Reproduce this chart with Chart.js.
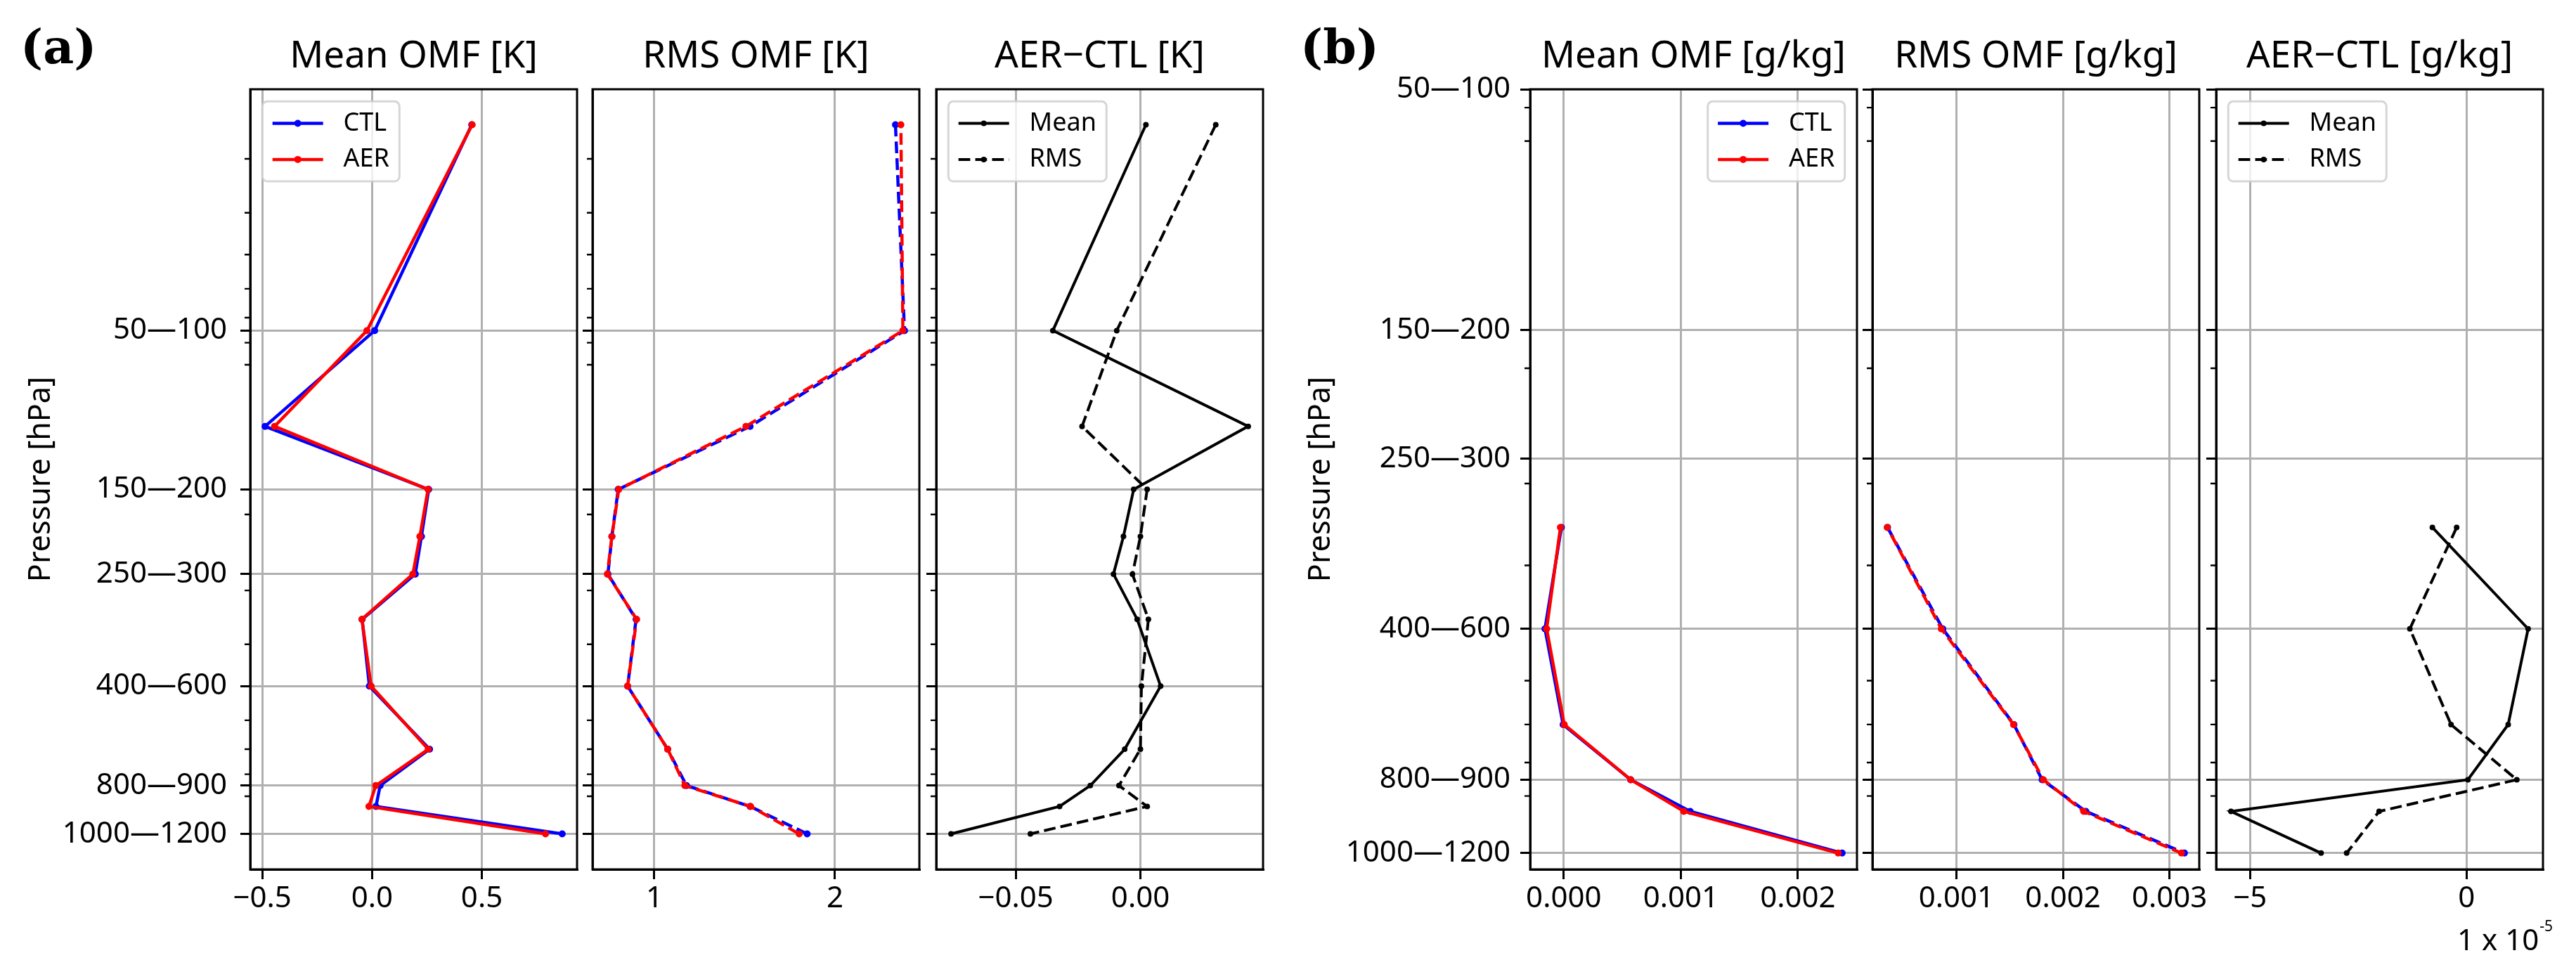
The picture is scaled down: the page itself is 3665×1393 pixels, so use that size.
<!DOCTYPE html>
<html>
<head>
<meta charset="utf-8">
<script src="https://cdn.jsdelivr.net/npm/chart.js"></script>
<style>
  html, body { margin: 0; padding: 0; background: #fff; }
  #wrap { position: relative; width: 3665px; height: 1393px; }
  #wrap canvas { position: absolute; left: 0; top: 0; }
</style>
</head>
<body>
<div id="wrap">
  <canvas id="a1" width="3665" height="1393"></canvas>
  <canvas id="a2" width="3665" height="1393"></canvas>
  <canvas id="a3" width="3665" height="1393"></canvas>
  <canvas id="b1" width="3665" height="1393"></canvas>
  <canvas id="b2" width="3665" height="1393"></canvas>
  <canvas id="b3" width="3665" height="1393"></canvas>
</div>
<script>
// pressure layers [hPa]; each layer is plotted at its mid pressure
var levelsT = [25, 75, 125, 175, 225, 275, 350, 500, 700, 850, 950, 1100];
var levelsQ = [350, 500, 700, 850, 950, 1100];
var layerTicks = [75, 175, 275, 500, 850, 1100];
var layerLabels = ['50\u2014100', '150\u2014200', '250\u2014300', '400\u2014600', '800\u2014900', '1000\u20141200'];

// (a) temperature OMF [K]
var meanCtlT = [0.454, 0.012, -0.487, 0.258, 0.225, 0.197, -0.045, -0.012, 0.262, 0.037, 0.018, 0.866];
var meanAerT = [0.456, -0.023, -0.444, 0.255, 0.218, 0.186, -0.046, -0.004, 0.256, 0.017, -0.014, 0.790];
var rmsCtlT = [2.335, 2.385, 1.530, 0.800, 0.765, 0.743, 0.899, 0.852, 1.074, 1.178, 1.530, 1.846];
var rmsAerT = [2.365, 2.376, 1.507, 0.803, 0.765, 0.740, 0.902, 0.852, 1.074, 1.169, 1.533, 1.802];
var diffMeanT = [0.0022, -0.0351, 0.0432, -0.0027, -0.0068, -0.0108, -0.0013, 0.0081, -0.0063, -0.0201, -0.0324, -0.0759];
var diffRmsT = [0.0302, -0.0095, -0.0234, 0.0027, 0.0000, -0.0032, 0.0032, 0.0004, 0.0000, -0.0086, 0.0027, -0.0441];

// (b) humidity OMF [g/kg]
var meanCtlQ = [-0.0000200, -0.0001600, -0.0000050, 0.0005720, 0.0010800, 0.0023780];
var meanAerQ = [-0.0000279, -0.0001458, 0.0000046, 0.0005723, 0.0010256, 0.0023444];
var rmsCtlQ = [0.0003540, 0.0008720, 0.0015400, 0.0018050, 0.0022150, 0.0031400];
var rmsAerQ = [0.0003517, 0.0008589, 0.0015364, 0.0018166, 0.0021948, 0.0031123];
// AER-CTL in units of 1e-5 g/kg
var diffMeanQ = [-0.79, 1.42, 0.96, 0.03, -5.44, -3.36];
var diffRmsQ = [-0.23, -1.31, -0.36, 1.16, -2.02, -2.77];

// x tick values per panel
var ticksMeanT = [-0.5, 0, 0.5];
var ticksRmsT = [1, 2];
var ticksDiffT = [-0.05, 0];
var ticksMeanQ = [0, 0.001, 0.002];
var ticksRmsQ = [0.001, 0.002, 0.003];
var ticksDiffQ = [-5, 0];

var FONT = 'Noto Sans';
var PAGE_W = 3665, PAGE_H = 1393;
var BOX_TOP = 127, BOX_BOTTOM = 1237, BOX_W = 465;
var X_AXIS_H = 100;
var TITLE_SIZE = 53, TITLE_PAD = 14;
var TICK_SIZE = 42, LABEL_SIZE = 43, LEGEND_SIZE = 36;
var GRID = '#b0b0b0';

Chart.defaults.font.family = FONT;
Chart.defaults.color = '#000';

// matplotlib-like 5% margins
function padRange(arrs) {
  var all = [].concat.apply([], arrs);
  var lo = Math.min.apply(null, all), hi = Math.max.apply(null, all);
  var m = (hi - lo) * 0.05;
  return [lo - m, hi + m];
}
function padLogRange(levels) {
  var lo = Math.log10(Math.min.apply(null, levels)), hi = Math.log10(Math.max.apply(null, levels));
  var m = (hi - lo) * 0.05;
  // fixed ticks widen the view when they fall outside
  return [Math.min(Math.pow(10, lo - m), layerTicks[0]), Math.max(Math.pow(10, hi + m), layerTicks[layerTicks.length - 1])];
}
function minorTicks(min, max) {
  var out = [];
  for (var d = 1; d <= 3; d++) {
    for (var k = 2; k <= 9; k++) {
      var v = k * Math.pow(10, d);
      if (v >= min && v <= max) out.push(v);
    }
  }
  return out;
}
function fmt(v, dec) {
  return (v < 0 ? '\u2212' : '') + Math.abs(v).toFixed(dec);
}

function drawLegend(chart, corner) {
  var ctx = chart.ctx, ca = chart.chartArea;
  var fs = LEGEND_SIZE;
  var pad = 0.4 * fs, handleLen = 2 * fs, handlePad = 0.8 * fs, spacing = 0.5 * fs, axesPad = 0.48 * fs;
  var rowH = 0.93 * fs;
  var sets = chart.data.datasets;
  ctx.save();
  ctx.font = fs + 'px "' + FONT + '"';
  var tw = 0;
  sets.forEach(function (d) { tw = Math.max(tw, ctx.measureText(d.label).width); });
  var w = pad + handleLen + handlePad + tw + pad;
  var h = 2 * pad + sets.length * rowH + (sets.length - 1) * spacing;
  var x0 = corner === 'right' ? ca.right - axesPad - w : ca.left + axesPad;
  var y0 = ca.top + axesPad;
  ctx.beginPath();
  ctx.roundRect(x0, y0, w, h, 7);
  ctx.fillStyle = 'rgba(255,255,255,0.8)';
  ctx.fill();
  ctx.lineWidth = 3;
  ctx.strokeStyle = 'rgba(204,204,204,0.8)';
  ctx.stroke();
  sets.forEach(function (d, i) {
    var cy = y0 + pad + rowH / 2 + i * (rowH + spacing);
    var hx = x0 + pad;
    ctx.beginPath();
    ctx.setLineDash(d.borderDash || []);
    ctx.lineDashOffset = 0;
    ctx.strokeStyle = d.borderColor;
    ctx.lineWidth = d.borderWidth;
    ctx.moveTo(hx, cy);
    ctx.lineTo(hx + handleLen, cy);
    ctx.stroke();
    ctx.setLineDash([]);
    ctx.beginPath();
    ctx.arc(hx + handleLen / 2, cy, d.pointRadius, 0, Math.PI * 2);
    ctx.fillStyle = d.borderColor;
    ctx.fill();
    ctx.fillStyle = '#000';
    ctx.textBaseline = 'middle';
    ctx.textAlign = 'left';
    ctx.fillText(d.label, hx + handleLen + handlePad, cy);
  });
  ctx.restore();
}

var decor = {
  id: 'decor',
  afterDraw: function (chart, args, opts) {
    var ctx = chart.ctx, ca = chart.chartArea, ys = chart.scales.y;
    ctx.save();
    // minor ticks of the log pressure axis
    ctx.beginPath();
    ctx.strokeStyle = '#000';
    ctx.lineWidth = 2.4;
    minorTicks(ys.min, ys.max).forEach(function (v) {
      var py = ys.getPixelForValue(v);
      ctx.moveTo(ca.left - 8, py);
      ctx.lineTo(ca.left, py);
    });
    ctx.stroke();
    // frame
    ctx.lineWidth = 3;
    ctx.strokeRect(ca.left, ca.top, ca.right - ca.left, ca.bottom - ca.top);
    if (opts.letter) {
      ctx.font = 'bold 68px "DejaVu Serif"';
      ctx.fillStyle = '#000';
      ctx.textAlign = 'left';
      ctx.textBaseline = 'alphabetic';
      ctx.fillText(opts.letter, ca.left - 327, ca.top - 37);
    }
    if (opts.offsetText) {
      ctx.fillStyle = '#000';
      ctx.textAlign = 'left';
      ctx.textBaseline = 'alphabetic';
      ctx.font = TICK_SIZE + 'px "' + FONT + '"';
      var w1 = ctx.measureText('1 x 10').width;
      ctx.font = '21px "' + FONT + '"';
      var w2 = ctx.measureText('-5').width;
      var x0 = ca.right + 14 - w1 - w2 - 1;
      ctx.font = TICK_SIZE + 'px "' + FONT + '"';
      ctx.fillText('1 x 10', x0, ca.bottom + 115);
      ctx.font = '21px "' + FONT + '"';
      ctx.fillText('-5', x0 + w1 + 1, ca.bottom + 88);
    }
    ctx.restore();
    if (opts.legend) drawLegend(chart, opts.legend);
  }
};

function series(label, values, color, width, radius, dash, dashOffset) {
  return { label: label, values: values, color: color, width: width, radius: radius, dash: dash, dashOffset: dashOffset };
}

function panel(id, o) {
  var yW = o.yLabels ? 323 : 14;
  var xr = padRange(o.series.map(function (s) { return s.values; }));
  var yr = padLogRange(o.levels);
  var n = o.series.length;
  return new Chart(document.getElementById(id), {
    type: 'scatter',
    data: {
      datasets: o.series.map(function (s, i) {
        return {
          label: s.label,
          data: o.levels.map(function (p, j) { return { x: s.values[j], y: p }; }),
          order: n - 1 - i,   // later series on top, as in matplotlib
          showLine: true,
          borderColor: s.color,
          backgroundColor: s.color,
          pointBackgroundColor: s.color,
          pointBorderWidth: 0,
          pointRadius: s.radius,
          borderWidth: s.width,
          borderDash: s.dash || [],
          borderDashOffset: s.dashOffset || 0
        };
      })
    },
    options: {
      responsive: false,
      animation: false,
      devicePixelRatio: 1,
      events: [],
      layout: {
        padding: {
          left: o.left - yW,
          right: PAGE_W - o.left - BOX_W,
          top: BOX_TOP - (TITLE_SIZE * 1.2 + TITLE_PAD),
          bottom: PAGE_H - BOX_BOTTOM - X_AXIS_H
        }
      },
      plugins: {
        legend: { display: false },
        tooltip: { enabled: false },
        title: {
          display: true, text: o.title, fullSize: false, color: '#000',
          font: { family: FONT, size: TITLE_SIZE, weight: 'normal', lineHeight: 1.2 },
          padding: { top: 0, bottom: TITLE_PAD }
        },
        decor: { legend: o.legend, letter: o.letter, offsetText: o.offsetText }
      },
      scales: {
        x: {
          type: 'linear', min: xr[0], max: xr[1], bounds: 'data',
          afterBuildTicks: function (s) { s.ticks = o.xTicks.map(function (v) { return { value: v }; }); },
          afterFit: function (s) { s.height = X_AXIS_H; },
          ticks: {
            autoSkip: false, maxRotation: 0, padding: 3, color: '#000',
            font: { size: TICK_SIZE },
            callback: function (v) { return fmt(v, o.xDec); }
          },
          grid: { color: GRID, lineWidth: 3, tickColor: '#000', tickLength: 14, tickWidth: 3 },
          border: { display: true, color: '#000', width: 3 }
        },
        y: {
          type: 'logarithmic', reverse: true, min: yr[0], max: yr[1], bounds: 'data',
          afterBuildTicks: function (s) { s.ticks = layerTicks.map(function (v) { return { value: v }; }); },
          afterFit: function (s) { s.width = yW; },
          ticks: {
            autoSkip: false, padding: o.yPad || 14, color: '#000',
            font: { size: TICK_SIZE },
            callback: function (v) { return o.yLabels ? layerLabels[layerTicks.indexOf(v)] : ''; }
          },
          title: {
            display: !!o.yLabels, text: 'Pressure [hPa]', color: '#000',
            font: { size: LABEL_SIZE }, padding: 0
          },
          grid: { color: GRID, lineWidth: 3, tickColor: '#000', tickLength: 14, tickWidth: 3 },
          border: { display: true, color: '#000', width: 3 }
        }
      }
    },
    plugins: [decor]
  });
}

var DASH = [16.7, 7.2];

panel('a1', {
  left: 356, title: 'Mean OMF [K]', levels: levelsT, xTicks: ticksMeanT, xDec: 1,
  yLabels: true, yPad: 19, legend: 'left', letter: '(a)',
  series: [series('CTL', meanCtlT, '#0000ff', 4.5, 5), series('AER', meanAerT, '#ff0000', 4.5, 5)]
});
panel('a2', {
  left: 843, title: 'RMS OMF [K]', levels: levelsT, xTicks: ticksRmsT, xDec: 0,
  series: [series('CTL', rmsCtlT, '#0000ff', 4.5, 5, DASH), series('AER', rmsAerT, '#ff0000', 4.5, 5, DASH, 12)]
});
panel('a3', {
  left: 1332, title: 'AER\u2212CTL [K]', levels: levelsT, xTicks: ticksDiffT, xDec: 2, legend: 'left',
  series: [series('Mean', diffMeanT, '#000000', 4, 4), series('RMS', diffRmsT, '#000000', 4, 4, DASH)]
});
panel('b1', {
  left: 2177, title: 'Mean OMF [g/kg]', levels: levelsQ, xTicks: ticksMeanQ, xDec: 3,
  yLabels: true, yPad: 14, legend: 'right', letter: '(b)',
  series: [series('CTL', meanCtlQ, '#0000ff', 4.5, 5), series('AER', meanAerQ, '#ff0000', 4.5, 5)]
});
panel('b2', {
  left: 2664, title: 'RMS OMF [g/kg]', levels: levelsQ, xTicks: ticksRmsQ, xDec: 3,
  series: [series('CTL', rmsCtlQ, '#0000ff', 4.5, 5, DASH), series('AER', rmsAerQ, '#ff0000', 4.5, 5, DASH, 12)]
});
panel('b3', {
  left: 3153, title: 'AER\u2212CTL [g/kg]', levels: levelsQ, xTicks: ticksDiffQ, xDec: 0, legend: 'left',
  offsetText: true,
  series: [series('Mean', diffMeanQ, '#000000', 4, 4), series('RMS', diffRmsQ, '#000000', 4, 4, DASH)]
});
</script>
</body>
</html>
